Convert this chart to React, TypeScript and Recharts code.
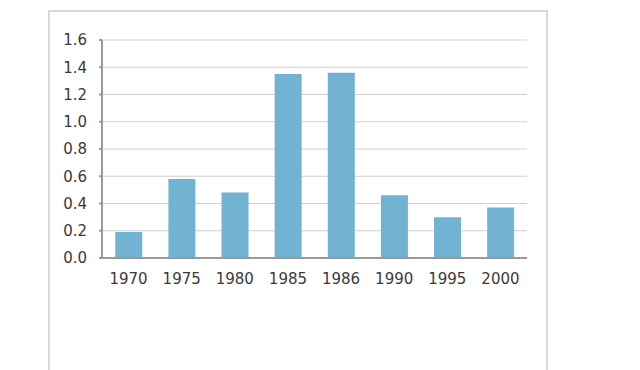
import React from 'react';
import { BarChart, Bar, XAxis, YAxis, CartesianGrid } from 'recharts';

const years = ['1970', '1975', '1980', '1985', '1986', '1990', '1995', '2000'];
const values = [0.19, 0.58, 0.48, 1.35, 1.36, 0.46, 0.3, 0.37];
const yTicks = [0, 0.2, 0.4, 0.6, 0.8, 1.0, 1.2, 1.4, 1.6];

const data = years.map((year, i) => ({ year, value: values[i] }));

const tickStyle = { fill: '#3a3a3a', fontSize: 15, fontFamily: '"DejaVu Sans", sans-serif' };

const App = () => {
    return (
        <div style={{ position: 'absolute', left: 0, top: 0, width: 640, height: 370, overflow: 'hidden', background: '#fff' }}>
            <div
                style={{
                    position: 'absolute',
                    left: 48,
                    top: 10,
                    width: 500,
                    height: 400,
                    border: '2px solid #d9d9d9',
                    boxSizing: 'border-box',
                }}
            />
            <div style={{ position: 'absolute', left: 0, top: 0 }}>
                <BarChart width={640} height={370} data={data} margin={{ top: 40, right: 113, left: 0, bottom: 82 }} barCategoryGap="25%">
                    <CartesianGrid stroke="#d0d0d0" vertical={false} />
                    <XAxis
                        dataKey="year"
                        height={30}
                        tick={tickStyle}
                        tickLine={false}
                        tickSize={0}
                        tickMargin={15}
                        axisLine={{ stroke: '#999', strokeWidth: 2 }}
                    />
                    <YAxis
                        width={102}
                        domain={[0, 1.6]}
                        ticks={yTicks}
                        tickFormatter={(v: number) => v.toFixed(1)}
                        tick={tickStyle}
                        tickSize={3}
                        tickMargin={12}
                        tickLine={{ stroke: '#999', strokeWidth: 2 }}
                        axisLine={{ stroke: '#999', strokeWidth: 2 }}
                    />
                    <Bar dataKey="value" fill="#72b2d3" isAnimationActive={false} />
                </BarChart>
            </div>
        </div>
    );
};

export default App;
